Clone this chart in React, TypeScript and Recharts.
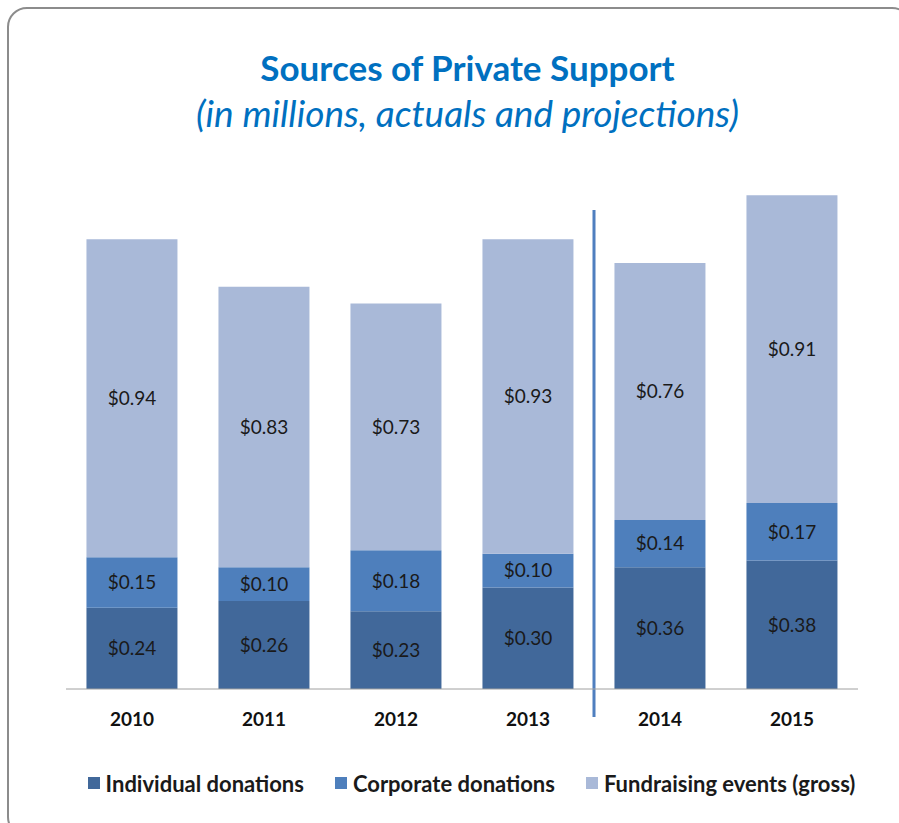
import { BarChart, Bar, XAxis, YAxis, LabelList, Legend, ReferenceLine } from 'recharts';

const years = ['2010', '2011', '2012', '2013', '2014', '2015'];
const individual = [0.24, 0.26, 0.23, 0.30, 0.36, 0.38];
const corporate = [0.15, 0.10, 0.18, 0.10, 0.14, 0.17];
const fundraising = [0.94, 0.83, 0.73, 0.93, 0.76, 0.91];

const seriesNames = ['Individual donations', 'Corporate donations', 'Fundraising events (gross)'];
const colors = ['#41689a', '#4e7fbc', '#a9b9d8'];

const data = years.map((year, i) => ({
  year,
  individual: individual[i],
  corporate: corporate[i],
  fundraising: fundraising[i],
}));

const font = 'Lato, "Open Sans", sans-serif';
const fmt = (v: any) => `$${Number(v).toFixed(2)}`;

const LegendContent = () => (
  <div style={{ display: 'flex', justifyContent: 'center', gap: 31, height: 24, alignItems: 'center', fontFamily: font, fontWeight: 700, fontSize: 22, color: '#1a1a1a' }}>
    {seriesNames.map((name, i) => (
      <div key={name} style={{ display: 'flex', alignItems: 'center' }}>
        <div style={{ width: 12, height: 12, background: colors[i], marginRight: 6 }} />
        <span>{name}</span>
      </div>
    ))}
  </div>
);

const DividerLine = (p: any) => {
  const top = Math.min(p.y1, p.y2);
  const bottom = Math.max(p.y1, p.y2);
  return <line x1={p.x1} x2={p.x2} y1={top + 62} y2={bottom + 28} stroke="#4f7fbf" strokeWidth={3} />;
};

export default function App() {
  const labelStyle = { fontFamily: font, fontSize: 19, fill: '#1a1a1a' };
  return (
    <div style={{ position: 'absolute', left: 0, top: 0, width: 899, height: 823, overflow: 'hidden', background: '#fff' }}>
      <div style={{ position: 'absolute', left: 7, top: 7, width: 905, height: 830, border: '2px solid #8c8c8c', borderRadius: 20, boxSizing: 'border-box' }} />
      <div style={{ position: 'absolute', left: 0, width: 935, top: 46, textAlign: 'center', fontFamily: font, fontWeight: 700, fontSize: 35, color: '#0070c0' }}>
        Sources of Private Support
      </div>
      <div style={{ position: 'absolute', left: 0, width: 935, top: 90, textAlign: 'center', fontFamily: font, fontStyle: 'italic', fontSize: 37, color: '#0070c0' }}>
        (in millions, actuals and projections)
      </div>
      <div style={{ position: 'absolute', left: 0, top: 0 }}>
        <BarChart width={899} height={823} data={data} margin={{ top: 148, right: 41, left: 66, bottom: 70 }} barCategoryGap="15.5%">
          <XAxis dataKey="year" height={40} tickLine={false} axisLine={{ stroke: '#a0a0a0' }} tickMargin={18}
            tick={{ fontFamily: font, fontSize: 19, fontWeight: 700, fill: '#111' }} />
          <YAxis hide domain={[0, 1.6]} />
          <Bar dataKey="individual" stackId="a" fill={colors[0]} isAnimationActive={false}>
            <LabelList dataKey="individual" position="center" formatter={fmt} style={labelStyle} />
          </Bar>
          <Bar dataKey="corporate" stackId="a" fill={colors[1]} isAnimationActive={false}>
            <LabelList dataKey="corporate" position="center" formatter={fmt} style={labelStyle} />
          </Bar>
          <Bar dataKey="fundraising" stackId="a" fill={colors[2]} isAnimationActive={false}>
            <LabelList dataKey="fundraising" position="center" formatter={fmt} style={labelStyle} />
          </Bar>
          <ReferenceLine x="2013" position="end" shape={DividerLine} />
          <Legend verticalAlign="bottom" content={LegendContent} wrapperStyle={{ top: 771, bottom: 'auto', left: 22, width: 899 }} />
        </BarChart>
      </div>
    </div>
  );
}
